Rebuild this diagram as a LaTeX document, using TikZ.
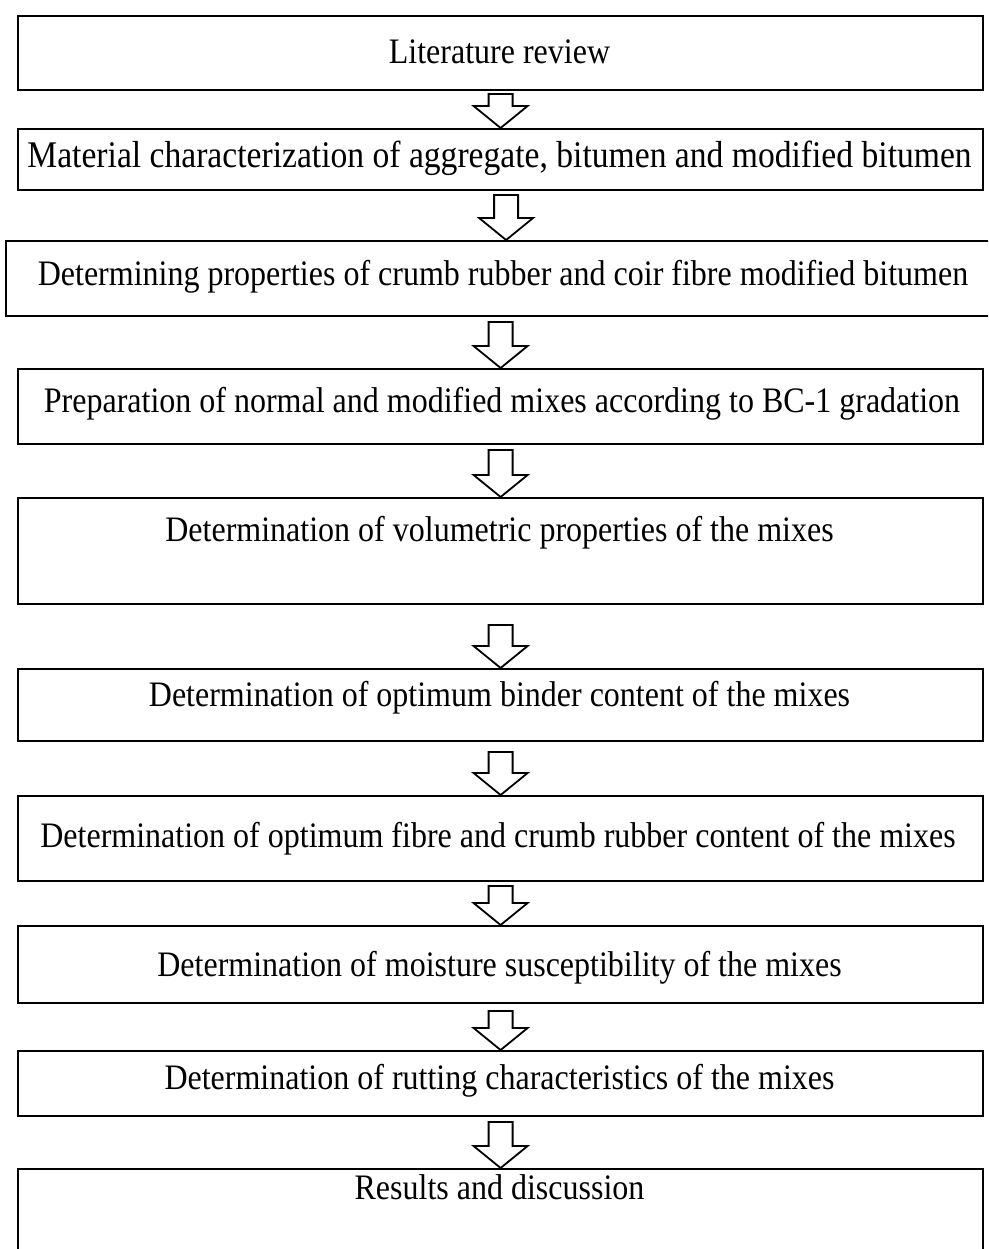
\documentclass[tikz,border=0pt]{standalone}
\usepackage{fontspec}
\setmainfont{Liberation Serif}
\tikzset{
  box/.style={draw, line width=2.2pt, rectangle, inner sep=0pt, anchor=north west, minimum width=965pt},
  lbl/.style={font=\fontsize{32}{38}\selectfont, inner sep=0pt},
  biglbl/.style={font=\fontsize{33.6}{40}\selectfont, inner sep=0pt},
  blk/.style={draw, line width=1.8pt, fill=white, line join=miter}
}
\newcommand{\st}[1]{\scalebox{1}[1.12]{#1}}
% #1 = target box, #2 = stem height
\newcommand{\blockarrowto}[2]{%
  \draw[blk] (#1.north) -- ++(27pt,22pt) -- ++(-15pt,0pt) -- ++(0pt,#2) -- ++(-24pt,0pt) -- ++(0pt,-#2) -- ++(-15pt,0pt) -- cycle;}
\begin{document}
\begin{tikzpicture}
\clip (0pt,0pt) rectangle (988pt,-1249pt);
\fill[white] (0pt,0pt) rectangle (988pt,-1249pt);
% boxes
\node[box, minimum height=74pt] (b1) at (17pt,-15pt) {};
\node[box, minimum height=61pt] (b2) at (17pt,-128pt) {};
\node[box, minimum height=75pt, minimum width=1000pt] (b3) at (5pt,-240pt) {};
\node[box, minimum height=75pt] (b4) at (17pt,-368pt) {};
\node[box, minimum height=106pt] (b5) at (17pt,-497pt) {};
\node[box, minimum height=72pt] (b6) at (17pt,-668pt) {};
\node[box, minimum height=85pt] (b7) at (17pt,-795pt) {};
\node[box, minimum height=77pt] (b8) at (17pt,-925pt) {};
\node[box, minimum height=65pt] (b9) at (17pt,-1050pt) {};
\node[box, minimum height=120pt] (b10) at (17pt,-1168pt) {};
% texts
\node[lbl] (t1) at (499.5pt,-52pt) {\st{Literature review}};
\node[biglbl] (t2) at (499.5pt,-158pt) {\st{Material characterization of aggregate, bitumen and modified bitumen}};
\node[lbl] (t3) at (503pt,-277pt) {\st{Determining properties of crumb rubber and coir fibre modified bitumen}};
\node[lbl] (t4) at (502pt,-404pt) {\st{Preparation of normal and modified mixes according to BC-1 gradation}};
\node[lbl] (t5) at (499.5pt,-533pt) {\st{Determination of volumetric properties of the mixes}};
\node[lbl] (t6) at (499.5pt,-698pt) {\st{Determination of optimum binder content of the mixes}};
\node[lbl] (t7) at (498pt,-839pt) {\st{Determination of optimum fibre and crumb rubber content of the mixes}};
\node[lbl] (t8) at (499.5pt,-968pt) {\st{Determination of moisture susceptibility of the mixes}};
\node[lbl] (t9) at (499.5pt,-1081pt) {\st{Determination of rutting characteristics of the mixes}};
\node[lbl] (t10) at (499.5pt,-1187pt) {\st{Results and discussion}};
% arrows
\blockarrowto{b2}{12pt}
\blockarrowto{b3}{23pt}
\blockarrowto{b4}{24pt}
\blockarrowto{b5}{25pt}
\blockarrowto{b6}{21pt}
\blockarrowto{b7}{21pt}
\blockarrowto{b8}{17pt}
\blockarrowto{b9}{17pt}
\blockarrowto{b10}{24pt}
\end{tikzpicture}
\end{document}
